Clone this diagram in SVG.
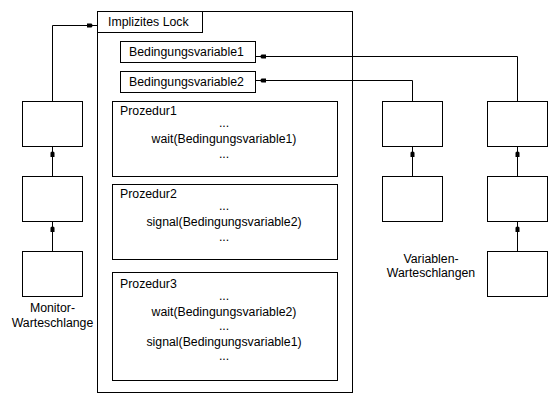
<svg xmlns="http://www.w3.org/2000/svg" width="559" height="400" viewBox="0 0 559 400">
<defs>
<style>
rect{fill:#fff;stroke:#000;stroke-width:1}
.c{fill:none;stroke:#000;stroke-width:1;marker-end:url(#a)}
text{font-family:"Liberation Sans",Arial,sans-serif;font-size:12.3px;fill:#000}
.m{text-anchor:middle}
</style>
<marker id="a" markerUnits="userSpaceOnUse" viewBox="0 -3 12 6" refX="10" refY="0" markerWidth="12" markerHeight="6" orient="auto" overflow="visible">
<path d="M0,-2 L4.5,-2 L6,0 L4.5,2 L0,2 Z" fill="#000"/>
</marker>
</defs>
<rect width="559" height="400" style="fill:#fff;stroke:none"/>
<g id="monitor">
<rect x="97.5" y="11.5" width="255" height="381"/>
</g>
<g id="lock">
<rect x="97.5" y="11.5" width="105" height="21"/>
<text x="108" y="25.5">Implizites Lock</text>
</g>
<g id="bv1">
<rect x="120.5" y="41.5" width="135" height="21"/>
<text x="129" y="55.5">Bedingungsvariable1</text>
</g>
<g id="bv2">
<rect x="120.5" y="71.5" width="135" height="21"/>
<text x="129" y="85.5">Bedingungsvariable2</text>
</g>
<g id="proc1">
<rect x="112.5" y="101.5" width="225" height="75"/>
<text x="120" y="115">Prozedur1</text>
<text class="m" x="224" y="127">...</text>
<text class="m" x="224" y="142.5">wait(Bedingungsvariable1)</text>
<text class="m" x="224" y="158">...</text>
</g>
<g id="proc2">
<rect x="112.5" y="184.5" width="225" height="75"/>
<text x="120" y="198">Prozedur2</text>
<text class="m" x="224" y="210">...</text>
<text class="m" x="224" y="225.5">signal(Bedingungsvariable2)</text>
<text class="m" x="224" y="241">...</text>
</g>
<g id="proc3">
<rect x="112.5" y="272.5" width="225" height="108"/>
<text x="120" y="288">Prozedur3</text>
<text class="m" x="224" y="300">...</text>
<text class="m" x="224" y="315.5">wait(Bedingungsvariable2)</text>
<text class="m" x="224" y="330">...</text>
<text class="m" x="224" y="345.5">signal(Bedingungsvariable1)</text>
<text class="m" x="224" y="360">...</text>
</g>
<g id="mq1"><rect x="22.5" y="101.5" width="60" height="45"/></g>
<g id="mq2"><rect x="22.5" y="176.5" width="60" height="45"/></g>
<g id="mq3"><rect x="22.5" y="251.5" width="60" height="45"/></g>
<g id="mqlabel">
<text class="m" x="52.5" y="312">Monitor-</text>
<text class="m" x="52.5" y="327">Warteschlange</text>
</g>
<g id="v2q1"><rect x="382.5" y="101.5" width="60" height="45"/></g>
<g id="v2q2"><rect x="382.5" y="176.5" width="60" height="45"/></g>
<g id="v1q1"><rect x="487.5" y="101.5" width="60" height="45"/></g>
<g id="v1q2"><rect x="487.5" y="176.5" width="60" height="45"/></g>
<g id="v1q3"><rect x="487.5" y="251.5" width="60" height="45"/></g>
<g id="vqlabel">
<text class="m" x="431" y="263">Variablen-</text>
<text class="m" x="431" y="277">Warteschlangen</text>
</g>
<g id="connectors">
<path class="c" d="M52.5,101 V25.5 H97"/>
<path class="c" d="M52.5,176 V147"/>
<path class="c" d="M52.5,251 V222"/>
<path class="c" d="M412.5,176 V147"/>
<path class="c" d="M517.5,176 V147"/>
<path class="c" d="M517.5,251 V222"/>
<path class="c" d="M517.5,101 V56.5 H256"/>
<path class="c" d="M412.5,101 V80.5 H256"/>
</g>
</svg>
